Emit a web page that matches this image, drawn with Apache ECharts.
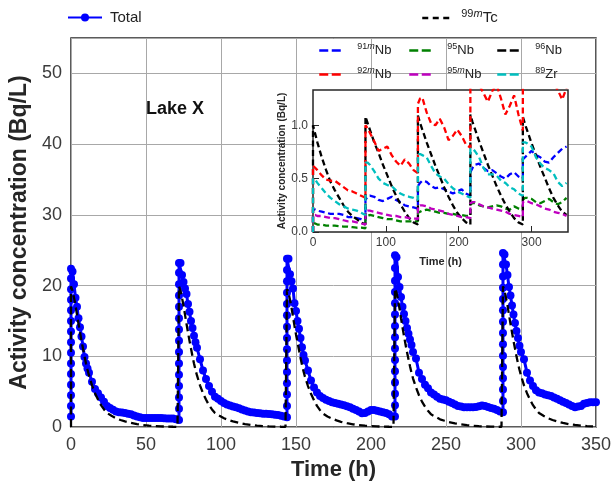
<!DOCTYPE html>
<html><head><meta charset="utf-8">
<script src="https://cdn.jsdelivr.net/npm/echarts@6/dist/echarts.min.js"></script>
<style>html,body{margin:0;padding:0;background:#fff}#c{width:614px;height:486px}</style>
</head><body><div id="c"></div>
<script>
// ---------- data ----------
const cycleStarts = [0, 72, 144, 216, 288];

// main plot: Total (hours within each release cycle; the repeated 0 = rising column of points)
const totalOffsets = [0,0,0,0,0,0,0,0,0,0,0,0,0,0,0, 1,2,3,4,5,6,7,8,9,10,11,12,
  14,16,18,20,22,24,26,28,30,32,34,36,38,40,42,44,46,48,50,52,54,56,58,60,62,64,66,68,70];
const total1 = [1.5,3.0,4.5,6.0,7.5,9.0,10.5,12.0,13.5,15.0,16.5,18.0,19.5,21.0,22.4,
  22.0,20.2,18.3,17.0,15.4,14.1,12.8,11.4,9.9,9.0,8.3,7.7,
  6.4,5.4,4.8,4.2,3.6,3.0,2.7,2.45,2.2,2.1,2.05,2.0,1.9,1.8,1.65,1.5,1.4,1.3,1.3,1.3,1.3,1.3,1.3,1.3,1.25,1.2,1.2,1.2,1.1];
const total2 = [1.0,2.6,4.2,5.8,7.4,9.0,10.6,12.2,13.8,15.4,17.0,18.6,20.2,21.8,23.2,
  23.2,21.5,20.5,19.6,18.8,17.4,16.3,15.0,14.0,12.9,12.0,11.2,
  9.6,8.0,6.8,5.8,5.0,4.3,4.0,3.7,3.4,3.2,3.05,2.9,2.8,2.65,2.5,2.35,2.2,2.1,2.05,2.0,1.95,1.9,1.9,1.85,1.8,1.75,1.7,1.6,1.5];
const total3 = [1.4,3.0,4.6,6.2,7.8,9.4,11.0,12.6,14.2,15.8,17.4,19.0,20.6,22.2,23.8,
  23.8,21.6,20.6,19.6,17.5,16.4,15.0,13.9,12.6,11.3,10.2,9.4,
  8.0,6.6,5.6,4.9,4.4,4.1,3.85,3.7,3.5,3.4,3.3,3.2,3.1,2.95,2.8,2.6,2.4,2.2,1.95,2.0,2.2,2.4,2.4,2.3,2.2,2.1,2.0,1.8,1.5];
const total4 = [1.5,3.1,4.7,6.3,7.9,9.5,11.1,12.7,14.3,15.9,17.5,19.1,20.7,22.5,24.3,
  24.0,21.2,19.8,18.4,17.0,16.0,15.0,14.0,13.2,12.4,11.6,10.6,
  9.7,7.7,6.8,6.0,5.5,4.9,4.6,4.3,4.0,3.9,3.8,3.6,3.4,3.2,3.0,2.9,2.8,2.8,2.8,2.8,2.85,2.95,3.05,3.0,2.85,2.7,2.6,2.4,2.2];
const total5 = [2.1,3.7,5.3,6.9,8.5,10.1,11.7,13.3,14.9,16.5,18.1,19.7,21.3,23.0,24.6,
  24.4,23.0,21.5,19.8,18.6,17.2,15.9,14.7,13.6,12.6,11.5,10.6,
  9.6,7.7,6.6,5.8,5.2,4.9,4.8,4.6,4.5,4.4,4.2,4.0,3.8,3.6,3.4,3.2,3.0,2.8,2.9,3.0,3.3,3.4,3.5,3.5,3.5];

// main plot: 99mTc
const tcOffsets = [0,0,1,2,3,4,5,6,7,8,9,10,11,12,14,16,18,20,22,24,27,30,33,36,40,44,48,52,56,60,64,68,71];
const tc1 = [0,19.9,19.3,18.3,17.2,15.9,14.6,13.4,12.2,11.1,10.0,9.0,8.1,7.3,5.9,4.8,3.9,3.1,2.5,2.0,1.6,1.25,1.0,0.8,0.6,0.42,0.3,0.2,0.14,0.1,0.07,0.05,0.04];
const tc2 = [0.04,19.9,19.3,18.3,17.2,15.9,14.6,13.4,12.2,11.1,10.0,9.0,8.1,7.3,5.9,4.8,3.9,3.1,2.5,2.0,1.6,1.25,1.0,0.8,0.6,0.42,0.3,0.2,0.14,0.1,0.07,0.05,0.04];
const tc3 = [0.04,19.5,19.0,18.0,16.9,15.6,14.3,13.1,12.0,10.9,9.8,8.8,7.9,7.1,5.8,4.7,3.8,3.0,2.4,1.9,1.5,1.2,0.95,0.75,0.55,0.4,0.28,0.2,0.14,0.1,0.07,0.05,0.04];
const tc4 = [0.04,19.6,19.0,18.0,16.8,15.4,14.1,12.9,11.7,10.6,9.6,8.6,7.7,6.9,5.6,4.5,3.6,2.9,2.3,1.8,1.45,1.1,0.9,0.7,0.52,0.38,0.27,0.19,0.13,0.09,0.07,0.05,0.04];
const tc5 = [0.04,19.9,19.3,18.3,17.2,15.9,14.6,13.4,12.2,11.1,10.0,9.0,8.1,7.3,5.9,4.8,3.9,3.1,2.5,2.0,1.6,1.25,1.0,0.8,0.6,0.42,0.3,0.2,0.14,0.1];

// inset
const insetOffsets = [0,3,6,12,18,24,30,36,42,48,54,60,66,72];
const nb91m = [[0.21,0.21,0.2,0.19,0.18,0.17,0.17,0.17,0.16,0.14,0.14,0.13,0.12,0.1],
               [0.3,0.33,0.34,0.33,0.3,0.29,0.31,0.33,0.3,0.28,0.25,0.24,0.23,0.22],
               [0.43,0.46,0.48,0.47,0.43,0.41,0.42,0.4,0.38,0.36,0.38,0.4,0.36,0.34],
               [0.56,0.6,0.63,0.64,0.6,0.57,0.58,0.55,0.52,0.5,0.54,0.56,0.52,0.5],
               [0.68,0.7,0.72,0.76,0.72,0.7,0.66,0.65,0.7,0.74,0.78,0.8]];
const nb92m = [[0.62,0.6,0.58,0.53,0.49,0.48,0.48,0.45,0.42,0.39,0.38,0.36,0.34,0.32],
               [1.0,0.97,0.93,0.85,0.76,0.78,0.8,0.72,0.66,0.62,0.68,0.64,0.58,0.55],
               [1.2,1.25,1.26,1.12,1.02,1.0,1.06,0.98,0.86,0.9,0.96,0.9,0.82,0.79],
               [1.42,1.45,1.42,1.38,1.3,1.22,1.32,1.38,1.25,1.1,1.18,1.28,1.1,0.95],
               [1.5,1.52,1.5,1.48,1.45,1.45,1.5,1.45,1.4,1.33,1.24,1.35]];
const nb95 = [[0.08,0.08,0.07,0.07,0.06,0.06,0.06,0.055,0.05,0.05,0.045,0.04,0.04,0.035],
              [0.14,0.15,0.16,0.15,0.14,0.13,0.12,0.12,0.11,0.1,0.1,0.1,0.1,0.1],
              [0.18,0.19,0.2,0.21,0.2,0.19,0.18,0.18,0.17,0.17,0.16,0.16,0.15,0.15],
              [0.26,0.27,0.27,0.25,0.24,0.23,0.24,0.25,0.24,0.22,0.21,0.24,0.22,0.21],
              [0.3,0.32,0.32,0.31,0.28,0.27,0.29,0.31,0.28,0.26,0.28,0.32]];
const nb95m = [[0.16,0.16,0.15,0.15,0.14,0.13,0.13,0.12,0.11,0.1,0.1,0.09,0.08,0.07],
               [0.18,0.2,0.2,0.19,0.18,0.17,0.16,0.15,0.15,0.14,0.14,0.13,0.13,0.12],
               [0.24,0.25,0.25,0.24,0.22,0.21,0.2,0.19,0.17,0.16,0.15,0.14,0.14,0.13],
               [0.27,0.28,0.28,0.26,0.24,0.23,0.22,0.21,0.2,0.19,0.17,0.16,0.15,0.14],
               [0.28,0.29,0.29,0.27,0.26,0.24,0.22,0.21,0.19,0.18,0.17,0.15]];
const nb96 = [[1.0,0.92,0.84,0.7,0.58,0.47,0.39,0.32,0.25,0.19,0.15,0.12,0.09,0.07],
              [1.08,1.02,0.96,0.84,0.74,0.63,0.53,0.43,0.34,0.26,0.19,0.13,0.09,0.07],
              [1.09,1.02,0.96,0.84,0.73,0.62,0.52,0.42,0.33,0.25,0.18,0.13,0.09,0.07],
              [1.1,1.03,0.97,0.85,0.74,0.63,0.53,0.43,0.34,0.26,0.19,0.13,0.09,0.07],
              [1.08,1.01,0.95,0.83,0.72,0.61,0.51,0.41,0.32,0.25,0.19,0.16]];
const zr89 = [[0.5,0.49,0.46,0.41,0.36,0.32,0.29,0.26,0.24,0.22,0.21,0.2,0.18,0.16],
              [0.65,0.65,0.63,0.57,0.5,0.46,0.44,0.43,0.39,0.36,0.34,0.33,0.32,0.3],
              [0.73,0.73,0.72,0.7,0.62,0.55,0.52,0.5,0.45,0.41,0.38,0.36,0.34,0.32],
              [0.78,0.78,0.76,0.7,0.6,0.54,0.54,0.53,0.48,0.46,0.42,0.4,0.36,0.34],
              [0.84,0.84,0.83,0.8,0.7,0.64,0.6,0.58,0.55,0.47,0.43,0.46]];

// ---------- build ----------
function build(offsets, cycles, startAtZero){
  const out = [];
  if (startAtZero) out.push([cycleStarts[0], 0]);
  cycles.forEach((vals, c) => vals.forEach((v, i) => out.push([cycleStarts[c] + offsets[i], v])));
  return out;
}
const FONT = 'Liberation Sans, Arial, sans-serif';
const labelMap = {
  'Total': '{g| }Total',
  '99mTc': '{g| }{s|99}{si|m}Tc',
  '91mNb': '{g| }{s|91}{si|m}Nb', '92mNb': '{g| }{s|92}{si|m}Nb',
  '95Nb': '{g| }{s|95}Nb', '95mNb': '{g| }{s|95}{si|m}Nb',
  '96Nb': '{g| }{s|96}Nb', '89Zr': '{g| }{s|89}Zr'
};
const insetRich = {
  g:{width:10, fontSize:13},
  s:{fontSize:9, verticalAlign:'top', lineHeight:14, fontFamily:FONT, color:'#222'},
  si:{fontSize:9, fontStyle:'italic', verticalAlign:'top', lineHeight:14, fontFamily:FONT, color:'#222'}
};
function insetLegend(names, left){
  return {data:names, orient:'vertical', left:left, top:37, itemWidth:23, itemHeight:10, itemGap:7,
    itemStyle:{opacity:0}, lineStyle:{type:[9,3.5], width:2.5},
    formatter: n => labelMap[n],
    textStyle:{fontSize:13, fontFamily:FONT, color:'#222', lineHeight:17, rich:insetRich}};
}
function insetSeries(name, color, cycles){
  return {name:name, type:'line', xAxisIndex:1, yAxisIndex:1, data:build(insetOffsets, cycles, true),
    symbol:'none', z:10, clip:true, lineStyle:{color:color, width:2.3, type:[6,3.5]}, itemStyle:{color:color}};
}

const chart = echarts.init(document.getElementById('c'), null, {renderer:'canvas'});
chart.setOption({
  animation:false,
  textStyle:{fontFamily:FONT},
  grid:[
    {left:71, right:17, top:38, bottom:54, show:true, borderColor:'#262626', borderWidth:1.5, backgroundColor:'rgba(0,0,0,0)', z:0},
    {left:313, right:46, top:90, bottom:254, show:true, borderColor:'#262626', borderWidth:1.5, backgroundColor:'#ffffff', z:5}
  ],
  xAxis:[
    {gridIndex:0, type:'value', min:0, max:350, interval:50, axisLine:{show:false}, axisTick:{show:false},
     splitLine:{lineStyle:{color:'#a8a8a8', width:1}}, axisLabel:{fontSize:18, color:'#3b3b3b', margin:9},
     name:'Time (h)', nameLocation:'middle', nameGap:29, nameTextStyle:{fontSize:22, fontWeight:'bold', color:'#262626'}},
    {gridIndex:1, type:'value', min:0, max:350, interval:100, z:6, axisLine:{show:false},
     axisTick:{show:true, inside:true, length:6, lineStyle:{color:'#262626', width:1}},
     splitLine:{show:false}, axisLabel:{fontSize:12, color:'#3b3b3b', margin:5, showMaxLabel:false},
     name:'Time (h)', nameLocation:'middle', nameGap:24, nameTextStyle:{fontSize:11, fontWeight:'bold', color:'#262626'}}
  ],
  yAxis:[
    {gridIndex:0, type:'value', min:0, max:55, interval:10, axisLine:{show:false}, axisTick:{show:false},
     splitLine:{lineStyle:{color:'#a8a8a8', width:1}}, axisLabel:{fontSize:18, color:'#3b3b3b', margin:9, showMaxLabel:false},
     name:'Activity concentration (Bq/L)', nameLocation:'middle', nameGap:36, nameTextStyle:{fontSize:23, fontWeight:'bold', color:'#262626'}},
    {gridIndex:1, type:'value', min:0, max:1.33, interval:0.5, z:6, axisLine:{show:false},
     axisTick:{show:true, inside:true, length:6, lineStyle:{color:'#262626', width:1}},
     splitLine:{show:false}, axisLabel:{fontSize:12, color:'#3b3b3b', margin:5, showMaxLabel:false, formatter:v => v.toFixed(1)},
     name:'Activity concentration (Bq/L)', nameLocation:'middle', nameGap:21, nameTextStyle:{fontSize:10, fontWeight:'bold', color:'#262626'}}
  ],
  legend:[
    {data:['Total'], left:62, top:5, itemWidth:34, itemHeight:10, formatter:n => labelMap[n],
     textStyle:{fontSize:15, color:'#222', rich:{g:{width:3, fontSize:15}}}},
    {data:['99mTc'], left:416, top:3, itemWidth:28, itemHeight:10, itemStyle:{opacity:0}, lineStyle:{type:[6,4.5], width:2.5},
     formatter:n => labelMap[n],
     textStyle:{fontSize:15, color:'#222', lineHeight:20, rich:{g:{width:6, fontSize:15}, s:{fontSize:11, verticalAlign:'top', lineHeight:18, color:'#222'}, si:{fontSize:11, fontStyle:'italic', verticalAlign:'top', lineHeight:18, color:'#222'}}}},
    insetLegend(['91mNb','92mNb'], 313),
    insetLegend(['95Nb','95mNb'], 403),
    insetLegend(['96Nb','89Zr'], 491)
  ],
  graphic:[
    {type:'text', x:175, y:109, z:20, style:{text:'Lake X', fontSize:18, fontWeight:'bold', fontFamily:FONT, fill:'#111', align:'center', verticalAlign:'middle'}}
  ],
  series:[
    {name:'Total', type:'line', xAxisIndex:0, yAxisIndex:0, data:build(totalOffsets, [total1,total2,total3,total4,total5], false),
     symbol:'circle', symbolSize:8, showSymbol:true, z:3, itemStyle:{color:'#0000ff'}, lineStyle:{color:'#0000ff', width:3}},
    {name:'99mTc', type:'line', xAxisIndex:0, yAxisIndex:0, data:build(tcOffsets, [tc1,tc2,tc3,tc4,tc5], false),
     symbol:'none', z:4, itemStyle:{color:'#000'}, lineStyle:{color:'#000', width:2.3, type:[8,4.5]}},
    insetSeries('91mNb', '#0000ff', nb91m),
    insetSeries('95Nb', '#008000', nb95),
    insetSeries('96Nb', '#000000', nb96),
    insetSeries('92mNb', '#ff0000', nb92m),
    insetSeries('95mNb', '#bf00bf', nb95m),
    insetSeries('89Zr', '#00bfbf', zr89)
  ]
});
</script></body></html>
